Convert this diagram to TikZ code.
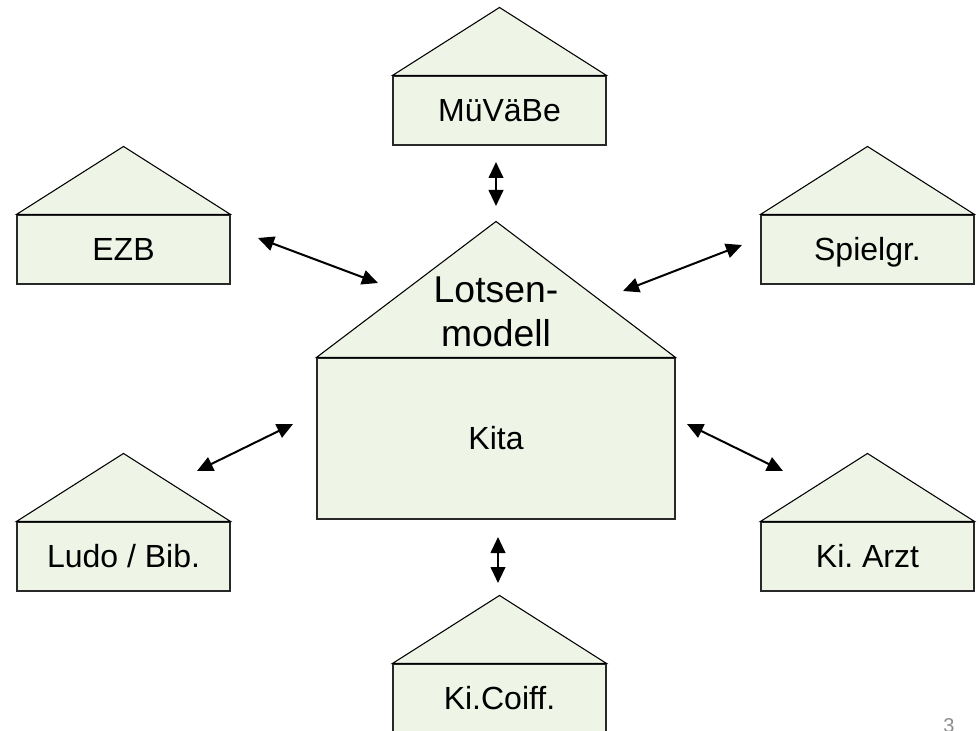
\documentclass[tikz,border=0pt]{standalone}
\usepackage{fontspec}
\setmainfont{Liberation Sans}
\usetikzlibrary{arrows.meta}
\definecolor{housefill}{RGB}{238,245,231}
\definecolor{houseline}{RGB}{40,40,40}
\definecolor{pagenum}{RGB}{140,140,140}
\frenchspacing
\begin{document}
\begin{tikzpicture}[x=0.75pt,y=-0.75pt,
  housebox/.style={draw=houseline, line width=0.8pt, fill=housefill,
    minimum width=159.75pt, minimum height=51.75pt, inner sep=0pt,
    text height=17.2pt, text depth=0pt,
    font=\fontsize{24}{28}\selectfont},
  bigbox/.style={draw=houseline, line width=0.8pt, fill=housefill,
    minimum width=268.5pt, minimum height=120.75pt, inner sep=0pt,
    text height=17.2pt, text depth=0pt,
    font=\fontsize{24}{28}\selectfont},
  roof/.style={draw=black, line width=0.8pt, fill=housefill, line join=miter},
  link/.style={line width=1.5pt, {Triangle[length=12pt,width=11pt]}-{Triangle[length=12pt,width=11pt]}},
  roofnote/.style={align=center, inner sep=0pt,
    font=\fontsize{28}{33}\selectfont}
]
\useasboundingbox (0,0) rectangle (979,731);

% small houses: box with a gabled roof on top
\node[housebox] (muevaebe) at (499.5,110.5) {MüVäBe};
\node[housebox] (ezb)      at (123.5,249.5) {EZB};
\node[housebox] (spielgr)  at (867.5,249.5) {Spielgr.};
\node[housebox] (ludo)     at (123.5,556.5) {Ludo / Bib.};
\node[housebox] (arzt)     at (867.5,556.5) {Ki. Arzt};
\node[housebox] (coiff)    at (499.5,698.5) {Ki.Coiff.};

\foreach \h in {muevaebe,ezb,spielgr,ludo,arzt,coiff}{
  \path[roof] (\h.north west) -- ([yshift=51pt]\h.north) -- (\h.north east) -- cycle;
}

% central house
\node[bigbox] (kita) at (496,438.5) {Kita};
\path[roof] (kita.north west) -- ([yshift=102pt]kita.north) -- (kita.north east) -- cycle;
\node[roofnote] (lotsen) at (496,312) {Lotsen-\\modell};

% arrow ends
\coordinate (t1) at (496,162);  \coordinate (t2) at (496,206);
\coordinate (e1) at (258,238);  \coordinate (e2) at (378,283);
\coordinate (s1) at (742,245);  \coordinate (s2) at (623,291);
\coordinate (l1) at (197,471);  \coordinate (l2) at (293,424);
\coordinate (a1) at (783,471);  \coordinate (a2) at (687,424);
\coordinate (b1) at (498,537);  \coordinate (b2) at (498,583);

\draw[link] (t1) -- (t2);
\draw[link] (e1) -- (e2);
\draw[link] (s1) -- (s2);
\draw[link] (l1) -- (l2);
\draw[link] (a1) -- (a2);
\draw[link] (b1) -- (b2);

% page number, running off the lower edge
\node[anchor=north, inner sep=0pt, text=pagenum, font=\fontsize{15}{18}\selectfont] (page) at (949,718) {3};
\end{tikzpicture}
\end{document}
